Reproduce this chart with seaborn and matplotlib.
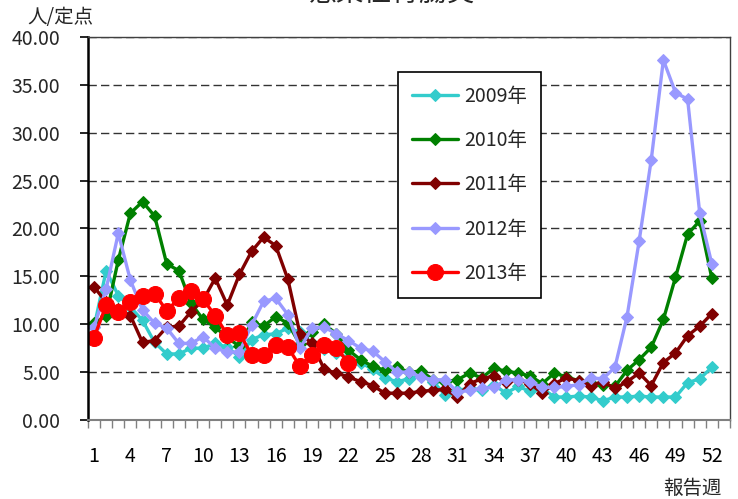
import numpy as np
import pandas as pd
import seaborn as sns
import matplotlib
matplotlib.use("Agg")
import matplotlib.pyplot as plt
from matplotlib.ticker import FixedLocator, FormatStrFormatter

# ---- data ----
weeks = list(range(1, 53))
labels = ["2009年", "2010年", "2011年", "2012年", "2013年"]
y2009 = [9.7, 15.6, 13.0, 11.8, 10.4, 8.1, 6.9, 6.9, 7.5, 7.5,
         8.0, 7.6, 6.6, 8.4, 8.9, 9.0, 9.6, 9.2, 8.0, 7.4,
         7.0, 6.5, 6.0, 5.3, 4.4, 4.0, 4.3, 4.6, 4.0, 2.6,
         3.1, 3.3, 3.1, 3.7, 2.8, 3.5, 3.0, 3.3, 2.4, 2.4,
         2.5, 2.4, 2.0, 2.4, 2.4, 2.5, 2.4, 2.4, 2.4, 3.9,
         4.3, 5.5]
y2010 = [10.1, 10.9, 16.7, 21.6, 22.8, 21.3, 16.3, 15.6, 12.2, 10.5,
         9.7, 8.6, 7.7, 10.2, 9.8, 10.8, 10.1, 7.9, 9.2, 10.0,
         9.0, 7.3, 6.3, 5.6, 5.2, 5.5, 5.0, 5.1, 4.2, 4.0,
         4.2, 4.9, 4.4, 5.4, 5.1, 4.9, 4.6, 3.8, 4.9, 4.5,
         4.1, 3.9, 3.7, 3.5, 5.2, 6.3, 7.6, 10.5, 14.9, 19.4,
         20.8, 14.8]
y2011 = [13.9, 12.3, 11.6, 10.9, 8.1, 8.3, 9.7, 9.8, 11.3, 12.5,
         14.8, 12.0, 15.2, 17.6, 19.1, 18.2, 14.7, 9.0, 8.0, 5.3,
         4.9, 4.5, 4.0, 3.6, 2.8, 2.8, 2.8, 3.0, 3.1, 3.2,
         2.4, 3.8, 4.3, 4.6, 4.0, 4.2, 3.8, 2.8, 3.8, 4.4,
         4.1, 3.6, 4.0, 3.3, 4.0, 4.9, 3.6, 6.0, 7.0, 8.8,
         9.8, 11.1]
y2012 = [9.7, 13.7, 19.5, 14.6, 11.5, 10.1, 9.6, 8.0, 8.0, 8.7,
         7.5, 7.1, 7.1, 9.9, 12.4, 12.7, 11.0, 7.5, 9.6, 9.7,
         9.0, 8.3, 7.5, 7.2, 6.1, 5.0, 5.0, 4.5, 4.2, 4.2,
         2.9, 3.1, 3.3, 3.4, 4.2, 4.2, 4.0, 3.4, 3.4, 3.5,
         3.7, 4.4, 4.3, 5.5, 10.8, 18.7, 27.2, 37.6, 34.2, 33.5,
         21.6, 16.3]
y2013 = [8.6, 12.0, 11.3, 12.3, 12.9, 13.2, 11.4, 12.7, 13.5, 12.6,
         10.9, 8.9, 9.1, 6.8, 6.8, 7.8, 7.6, 5.6, 6.8, 7.8,
         7.5, 6.0]
xtick_labels = [str(w) for w in range(1, 53, 3)]
y_ticks = [0, 5, 10, 15, 20, 25, 30, 35, 40]

series = [y2009, y2010, y2011, y2012, y2013]
colors = ["#33CCCC", "#008000", "#800000", "#9999FF", "#FF0000"]
markers = ["D", "D", "D", "D", "o"]
msizes = [6.5, 6.5, 6.5, 6.5, 11.5]

sns.set_theme(style="white")
plt.rcParams['font.family'] = ['Noto Sans CJK JP', 'DejaVu Sans']

fig = plt.figure(figsize=(7.38, 4.99), dpi=100)
ax = fig.add_axes([88/738, 1-420/499, (730-88)/738, (420-37)/499])

for lab, vals, c, m, ms in zip(labels, series, colors, markers, msizes):
    df = pd.DataFrame({"週": weeks[:len(vals)], "値": vals})
    sns.lineplot(data=df, x="週", y="値", ax=ax, color=c, marker=m,
                 markersize=ms, markeredgecolor=c, linewidth=2.4, label=lab)

ax.set_xlim(0.5, 53.5)
ax.set_ylim(0, 40)
ax.set_xlabel("")
ax.set_ylabel("")

ax.xaxis.set_major_locator(FixedLocator(list(range(1, 53, 3))))
ax.set_xticklabels(xtick_labels)
ax.xaxis.set_minor_locator(FixedLocator([w + 0.5 for w in range(0, 54)]))
ax.tick_params(axis='x', which='major', length=0, pad=19, labelsize=14, colors='black')
ax.tick_params(axis='x', which='minor', length=6, width=1, color='#808080', direction='out', bottom=True)

ax.set_yticks(y_ticks)
ax.yaxis.set_major_formatter(FormatStrFormatter('%.2f'))
ax.tick_params(axis='y', which='major', length=6, width=1.2, color='black', direction='out',
               left=True, pad=14, labelsize=14)

ax.yaxis.grid(True, linestyle=(0, (6, 3)), color='#333333', linewidth=1)
ax.xaxis.grid(False)

for s in ['top', 'right']:
    ax.spines[s].set_color('#404040')
    ax.spines[s].set_linewidth(1)
ax.spines['left'].set_color('black')
ax.spines['left'].set_linewidth(1.8)
ax.spines['bottom'].set_color('#808080')
ax.spines['bottom'].set_linewidth(1.5)

leg = ax.legend(loc='upper left', bbox_to_anchor=((398-88)/642, (420-72)/383),
                frameon=True, fancybox=False, edgecolor='black', framealpha=1,
                fontsize=14, labelspacing=1.2, handlelength=2.4, handletextpad=0.3,
                borderpad=0.7, borderaxespad=0)
leg.get_frame().set_linewidth(1.2)

fig.text(391/738, 1+6/499, "感染性胃腸炎", ha='center', va='center', fontsize=20)
fig.text(60/738, 1-18/499, "人/定点", ha='center', va='center', fontsize=14)
fig.text(692/738, 1-488/499, "報告週", ha='center', va='center', fontsize=14)

fig.savefig("out.png", dpi=100)
